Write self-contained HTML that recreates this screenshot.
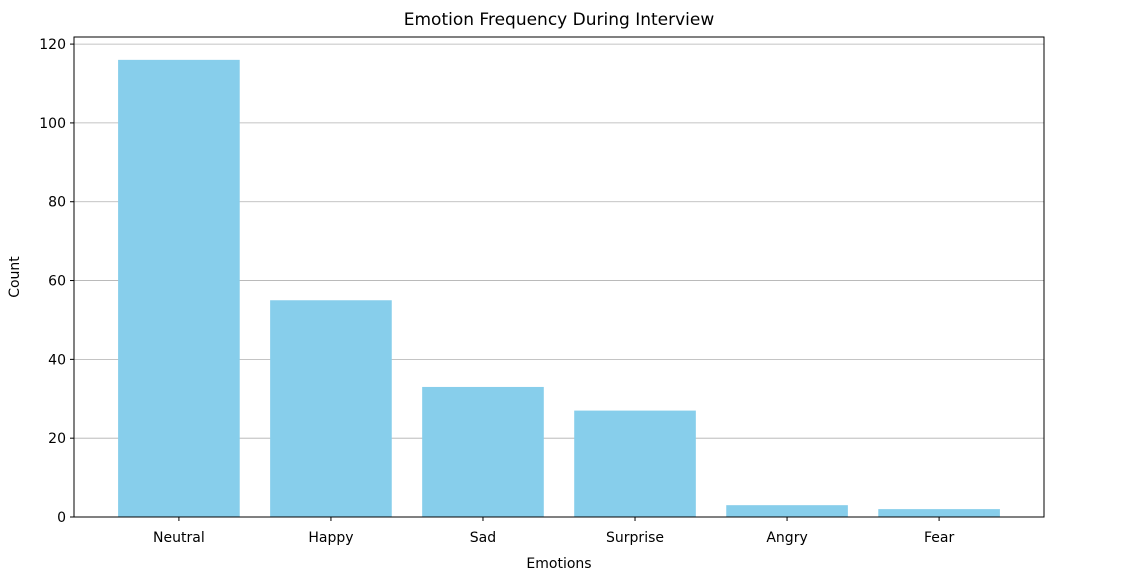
<!DOCTYPE html>
<html><head><meta charset="utf-8"><style>
body{margin:0;background:#fff;}
svg text{font-family:"DejaVu Sans","Liberation Sans",sans-serif;fill:#000;}
</style></head><body>
<svg id="chart" width="1134" height="583" viewBox="0 0 1134 583" xmlns="http://www.w3.org/2000/svg">
<g id="grid"></g><g id="bars"></g><g id="axes"></g>
</svg>
<script>
const categories=["Neutral","Happy","Sad","Surprise","Angry","Fear"];
const counts=[116,55,33,27,3,2];
const yTicks=[0,20,40,60,80,100,120];
const L=74,R=1044,T=37,B=517;
const ymax=Math.max(...counts)*1.05;
const xmin=-0.4-0.05*(categories.length-0.2), xmax=categories.length-1+0.4+0.05*(categories.length-0.2);
const xs=v=>L+(v-xmin)/(xmax-xmin)*(R-L);
const ys=v=>B-v/ymax*(B-T);
const NS="http://www.w3.org/2000/svg";
function mk(tag,attrs,parent,text){const e=document.createElementNS(NS,tag);for(const k in attrs)e.setAttribute(k,attrs[k]);if(text!==undefined)e.textContent=text;parent.appendChild(e);return e;}
const svg=document.getElementById('chart'),grid=document.getElementById('grid'),bars=document.getElementById('bars'),axes=document.getElementById('axes');
yTicks.forEach(t=>{const y=ys(t);
 const g=mk('line',{x1:L,x2:R,y1:y,y2:y,stroke:'#b0b0b0','stroke-width':0.8},grid);
 
 mk('line',{x1:L-4,x2:L,y1:y,y2:y,stroke:'#000'},axes);
 const tx=mk('text',{x:L-8,y:y+5,'text-anchor':'end','font-size':14},axes,String(t));
 
});
const bw=(xs(0.8)-xs(0));
categories.forEach((c,i)=>{const cx=xs(i);
 const r=mk('rect',{x:cx-bw/2,y:ys(counts[i]),width:bw,height:B-ys(counts[i]),fill:'#87ceeb'},bars);
 
 mk('line',{x1:cx,x2:cx,y1:B,y2:B+4,stroke:'#000'},axes);
 const tx=mk('text',{x:cx,y:B+25,'text-anchor':'middle','font-size':14},axes,c);
 
});
const f=mk('rect',{x:L,y:T,width:R-L,height:B-T,fill:'none',stroke:'#000','stroke-width':1},axes);

const ti=mk('text',{x:(L+R)/2,y:25,'text-anchor':'middle','font-size':17},axes,'Emotion Frequency During Interview');

const xl=mk('text',{x:(L+R)/2,y:568,'text-anchor':'middle','font-size':14},axes,'Emotions');

const yl=mk('text',{x:0,y:0,'text-anchor':'middle','font-size':14,transform:'translate(19,'+((T+B)/2)+') rotate(-90)'},axes,'Count');

</script>
</body></html>
